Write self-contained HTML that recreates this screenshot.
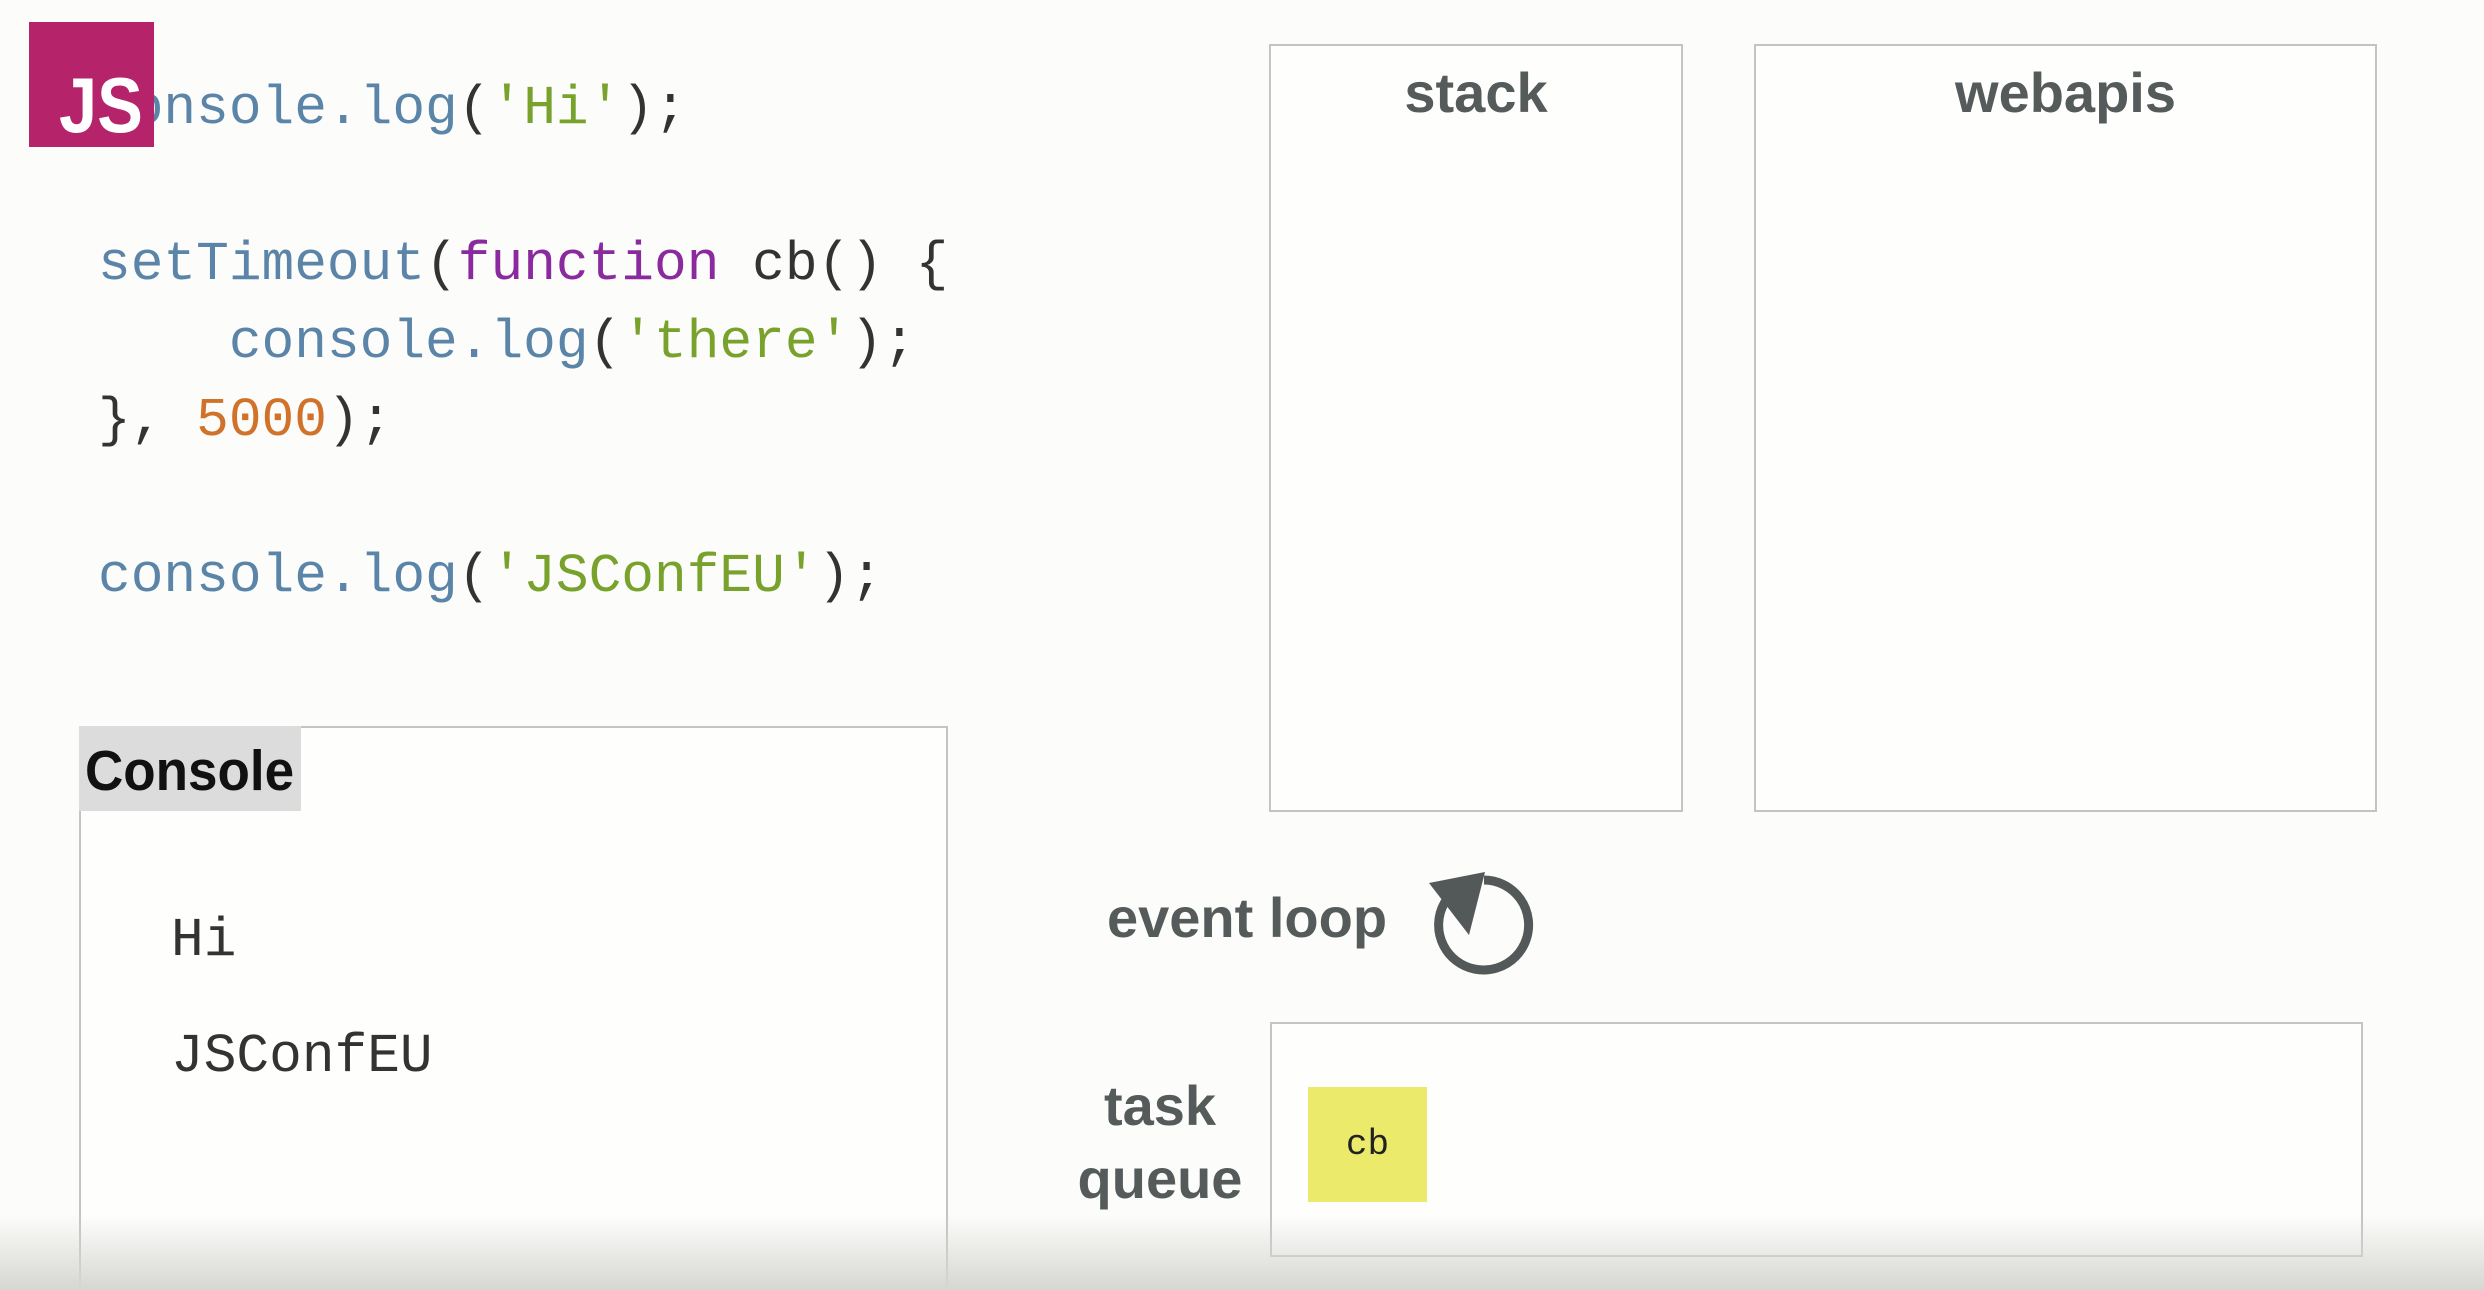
<!DOCTYPE html>
<html><head><meta charset="utf-8"><style>
html,body{margin:0;padding:0;width:2484px;height:1290px;overflow:hidden}
body{position:relative;background:#fcfcfa;font-family:"Liberation Sans",sans-serif}
.a{position:absolute}
.code{font-family:"Liberation Mono",monospace;font-size:54.5px;line-height:1;white-space:pre;color:#333}
.b{color:#5a84a8}.g{color:#78a22c}.p{color:#8b2a9e}.o{color:#d0722a}
.box{position:absolute;border:2px solid #c4c4c4;background:#fefefd;box-sizing:border-box}
.lbl{position:absolute;color:#555a5a;font-weight:bold;font-size:56px;text-align:center;white-space:nowrap}
</style></head><body>
<div class="a code" style="left:98px;top:83px"><span class="b">console.log</span>(<span class="g">'Hi'</span>);</div>
<div class="a code" style="left:98px;top:239px"><span class="b">setTimeout</span>(<span class="p">function</span> cb() {</div>
<div class="a code" style="left:98px;top:317px">    <span class="b">console.log</span>(<span class="g">'there'</span>);</div>
<div class="a code" style="left:98px;top:395px">}, <span class="o">5000</span>);</div>
<div class="a code" style="left:98px;top:551px"><span class="b">console.log</span>(<span class="g">'JSConfEU'</span>);</div>
<div class="a" style="left:29px;top:22px;width:125px;height:125px;background:#b5236b;overflow:hidden">
<div class="a" style="left:30px;top:44px;color:#fff;font-weight:bold;font-size:78px;line-height:1;transform:scaleX(0.88);transform-origin:left">JS</div></div>

<div class="box" style="left:1269px;top:44px;width:414px;height:768px"></div>
<div class="lbl" style="left:1269px;top:60px;width:414px">stack</div>
<div class="box" style="left:1754px;top:44px;width:623px;height:768px"></div>
<div class="lbl" style="left:1754px;top:60px;width:623px">webapis</div>

<div class="box" style="left:79px;top:726px;width:869px;height:620px"></div>
<div class="a" style="left:79px;top:726px;width:222px;height:85px;background:#dcdcdc"></div>
<div class="a" style="left:85px;top:738px;font-size:57px;font-weight:bold;color:#111;transform:scaleX(0.93);transform-origin:left">Console</div>
<div class="a code" style="left:171px;top:915px">Hi</div>
<div class="a code" style="left:171px;top:1031px">JSConfEU</div>

<div class="lbl" style="left:1107px;top:885px;text-align:left">event loop</div>
<svg class="a" style="left:1420px;top:860px" width="130" height="130" viewBox="0 0 130 130">
<path d="M 64 20 A 45 45 0 1 1 38 28" fill="none" stroke="#535858" stroke-width="9"/>
<polygon points="9,23 65,12 49,75" fill="#535858"/>
</svg>

<div class="box" style="left:1270px;top:1022px;width:1093px;height:235px"></div>
<div class="lbl" style="left:1060px;top:1073px;width:200px">task</div>
<div class="lbl" style="left:1060px;top:1146px;width:200px">queue</div>
<div class="a" style="left:1308px;top:1087px;width:119px;height:115px;background:#ebea6a"></div>
<div class="a code" style="left:1308px;top:1127px;width:119px;text-align:center;font-size:36px;color:#222">cb</div>

<div class="a" style="left:0;top:1215px;width:2484px;height:75px;background:linear-gradient(rgba(252,252,250,0),#d6d6d2)"></div>
</body></html>
